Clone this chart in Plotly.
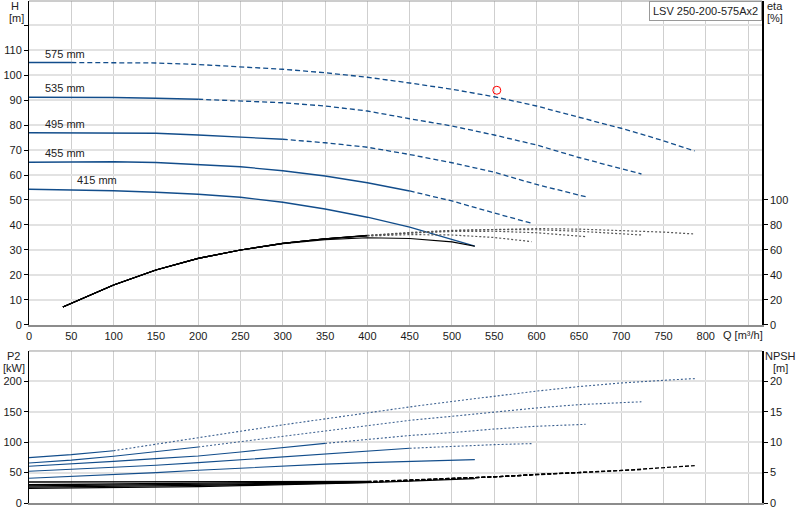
import plotly.graph_objects as go

# impeller diameters, mm
diameters = [415, 455, 495, 535, 575]

# flow points of each curve, m3/h
q_415 = [0, 50, 100, 150, 200, 250, 300, 350, 400, 450, 500, 527]
q_455 = [0, 50, 100, 150, 200, 250, 300, 350, 400, 450, 500, 550, 594]
q_495 = [0, 50, 100, 150, 200, 250, 300, 350, 400, 450, 500, 550, 600, 650, 658]
q_535 = [0, 50, 100, 150, 200, 250, 300, 350, 400, 450, 500, 550, 600, 650, 700, 724]
q_575 = [0, 50, 100, 150, 200, 250, 300, 350, 400, 450, 500, 550, 600, 650, 700, 750, 787]
q_all = [q_415, q_455, q_495, q_535, q_575]

# head H [m]
h_415 = [54.3, 54.1, 53.7, 53.1, 52.3, 51.1, 49.1, 46.4, 43.1, 39.1, 34.2, 31.5]
h_455 = [65.1, 65.2, 65.3, 65.0, 64.3, 63.3, 61.7, 59.6, 56.9, 53.6, 49.6, 44.8, 40.7]
h_495 = [76.9, 76.9, 76.9, 76.7, 76.0, 75.3, 74.3, 72.9, 71.1, 68.2, 64.9, 61.1, 56.2, 52.0, 51.3]
h_535 = [91.1, 91.1, 91.0, 90.7, 90.3, 89.6, 88.9, 87.6, 85.6, 82.5, 79.6, 76.0, 72.0, 67.0, 62.6, 60.4]
h_575 = [105.0, 105.0, 105.0, 104.8, 104.2, 103.3, 102.3, 100.9, 99.1, 96.8, 94.3, 91.3, 87.6, 83.1, 78.7, 73.7, 69.6]
head = [h_415, h_455, h_495, h_535, h_575]

# efficiency eta [%] (curves start at 40 m3/h)
qe_415 = [40] + q_415[1:]
qe_455 = [40] + q_455[1:]
qe_495 = [40] + q_495[1:]
qe_535 = [40] + q_535[1:]
qe_575 = [40] + q_575[1:]
qe_all = [qe_415, qe_455, qe_495, qe_535, qe_575]
eta_415 = [14.4, 17.4, 32.0, 44.0, 53.3, 60.0, 65.0, 68.3, 69.8, 69.2, 66.5, 63.0]
eta_455 = [14.4, 17.4, 32.0, 44.0, 53.3, 60.0, 65.3, 69.0, 71.2, 72.3, 72.0, 70.0, 66.7]
eta_495 = [14.4, 17.4, 32.0, 44.0, 53.3, 60.0, 65.3, 69.0, 71.5, 73.5, 74.8, 75.0, 73.8, 71.2, 70.7]
eta_535 = [14.4, 17.4, 32.0, 44.0, 53.3, 60.0, 65.3, 69.0, 71.6, 73.8, 75.5, 76.3, 76.2, 75.0, 73.2, 72.0]
eta_575 = [14.4, 17.4, 32.0, 44.0, 53.3, 60.0, 65.3, 69.0, 71.7, 74.0, 75.7, 76.7, 77.1, 76.7, 75.7, 74.3, 72.8]
eta = [eta_415, eta_455, eta_495, eta_535, eta_575]

# shaft power P2 [kW]
p2_415 = [40.6, 43.5, 46.8, 50.0, 53.8, 57.5, 60.9, 64.0, 66.4, 68.8, 70.2, 71.4]
p2_455 = [52.1, 55.0, 58.5, 62.0, 66.4, 71.0, 75.7, 80.5, 85.0, 90.0, 93.3, 96.0, 97.7]
p2_495 = [60.4, 64.0, 68.5, 73.0, 77.3, 84.0, 91.0, 98.0, 104.8, 111.0, 115.8, 121.7, 126.2, 129.0, 129.4]
p2_535 = [65.8, 70.5, 77.0, 84.0, 92.0, 101.0, 110.0, 119.0, 127.8, 136.0, 142.6, 149.7, 156.3, 161.8, 165.6, 166.5]
p2_575 = [74.6, 79.5, 86.0, 97.0, 107.5, 118.0, 128.5, 138.5, 148.5, 158.0, 167.0, 176.0, 184.0, 191.5, 197.4, 201.8, 204.6]
power = [p2_415, p2_455, p2_495, p2_535, p2_575]

# NPSH [m]
npsh_415 = [2.4, 2.45, 2.5, 2.6, 2.7, 2.85, 3.0, 3.2, 3.35, 3.6, 3.9, 4.0]
npsh_455 = [2.6, 2.65, 2.7, 2.8, 2.9, 3.0, 3.15, 3.3, 3.4, 3.65, 4.0, 4.3, 4.6]
npsh_495 = [2.8, 2.85, 2.9, 3.0, 3.05, 3.15, 3.25, 3.35, 3.45, 3.7, 4.0, 4.3, 4.7, 5.0, 5.05]
npsh_535 = [3.0, 3.05, 3.1, 3.15, 3.2, 3.3, 3.35, 3.45, 3.5, 3.7, 4.05, 4.3, 4.7, 5.0, 5.35, 5.5]
npsh_575 = [3.45, 3.45, 3.45, 3.45, 3.45, 3.5, 3.5, 3.55, 3.55, 3.75, 4.05, 4.3, 4.7, 5.0, 5.35, 5.75, 6.15]
npsh = [npsh_415, npsh_455, npsh_495, npsh_535, npsh_575]

# where the solid part of each curve ends
split_head = [527, 450, 300, 200, 50]
split_p2 = [527, 450, 350, 200, 100]
split_eta = [527, 400, 400, 400, 400]
split_npsh = [527, 400, 400, 400, 400]

# duty point
duty_q = [553]
duty_h = [93.9]

q_ticks = list(range(0, 851, 50))
h_ticks = list(range(0, 121, 10))
eta_ticks = list(range(0, 101, 20))
p2_ticks = list(range(0, 201, 50))
npsh_ticks = list(range(0, 21, 5))

BLUE = '#124d8b'

fig = go.Figure()


def add_curve(q, v, split, color, dash, xaxis, yaxis, width=1.3, color2=None):
    q1 = [a for a in q if a <= split]
    q2 = [a for a in q if a >= split]
    fig.add_trace(go.Scatter(x=q1, y=v[:len(q1)], mode='lines',
                             line=dict(color=color, width=width),
                             xaxis=xaxis, yaxis=yaxis, hoverinfo='skip'))
    if len(q2) > 1:
        fig.add_trace(go.Scatter(x=q2, y=v[len(q) - len(q2):], mode='lines',
                                 line=dict(color=color2 or color, width=width, dash=dash),
                                 xaxis=xaxis, yaxis=yaxis, hoverinfo='skip'))


for i in range(len(diameters)):
    add_curve(qe_all[i], eta[i], split_eta[i], 'black', '2px,2px', 'x', 'y2', 1.2, '#555555')
for i in range(len(diameters)):
    add_curve(q_all[i], head[i], split_head[i], BLUE, '5px,3px', 'x', 'y', 1.3)
    add_curve(q_all[i], power[i], split_p2[i], BLUE, '2px,2px', 'x2', 'y3', 1.1, '#3a5f8f')
    add_curve(q_all[i], npsh[i], split_npsh[i], 'black', '4px,2px', 'x2', 'y4', 1.3)

fig.add_trace(go.Scatter(x=duty_q, y=duty_h, mode='markers', xaxis='x', yaxis='y',
                         marker=dict(symbol='circle-open', size=8, color='red', line=dict(width=1)),
                         hoverinfo='skip'))

# diameter labels above the curves
for i, d in enumerate(diameters):
    fig.add_annotation(x=80 if d == 415 else 42, y=head[i][0], xref='x', yref='y',
                       text=f'{d} mm', showarrow=False, yshift=9,
                       font=dict(size=11, color='#222'))

# pixel -> paper helpers (l=29, plot width 733, b=17, plot height 502)
def px(x):
    return (x - 29) / 733


def py(y):
    return (503 - y) / 502


labels = [
    ('H', 15, 6, 'center'), ('[m]', 16, 18, 'center'),
    ('eta', 775, 6, 'center'), ('[%]', 775, 18, 'center'),
    ('P2', 13, 356, 'center'), ('[kW]', 14, 368, 'center'),
    ('NPSH', 780, 356, 'center'), ('[m]', 780, 368, 'center'),
    ('Q [m\u00b3/h]', 721, 335, 'left'),
]
for txt, x, y, anc in labels:
    fig.add_annotation(x=px(x), y=py(y), xref='paper', yref='paper', text=txt,
                       showarrow=False, xanchor=anc, yanchor='middle',
                       font=dict(size=11, color='#222'))

fig.add_annotation(x=1, y=1, xref='paper', yref='paper', text='LSV 250-200-575Ax2',
                   showarrow=False, xanchor='right', yanchor='top',
                   bordercolor='#999', borderwidth=1, borderpad=3, bgcolor='white',
                   font=dict(size=11, color='#222'))

# top borders of both panels
for yr in ['y domain', 'y3 domain']:
    fig.add_shape(type='line', xref='x domain', yref=yr, x0=0, x1=1, y0=1, y1=1,
                  line=dict(color='#9a9a9a', width=1))

xcommon = dict(range=[0, 866.5], tickvals=q_ticks,
               ticktext=[str(v) for v in q_ticks[:-1]] + [''],
               showgrid=True, gridcolor='#cfcfcf', gridwidth=1, zeroline=False,
               showline=True, linecolor='#8c8c8c', linewidth=2, ticks='')
yleft = dict(showgrid=True, gridcolor='#e2e2e2', gridwidth=2, zeroline=False,
             showline=True, linecolor='black', linewidth=1,
             ticks='outside', ticklen=4, tickcolor='black')
yright = dict(showgrid=False, zeroline=False, side='right',
              showline=True, linecolor='black', linewidth=1.5,
              ticks='outside', ticklen=4, tickcolor='black')

fig.update_layout(
    width=800, height=520,
    margin=dict(l=29, r=38, t=1, b=17),
    plot_bgcolor='white', paper_bgcolor='white',
    showlegend=False,
    font=dict(family='Liberation Sans, Arial, sans-serif', size=11, color='#1a1a1a'),
    xaxis=dict(domain=[0, 1], anchor='y', **xcommon),
    xaxis2=dict(domain=[0, 1], anchor='y3', showticklabels=False, **xcommon),
    yaxis=dict(domain=[0.3546, 1], range=[0, 129.6], anchor='x', tickvals=h_ticks,
               ticktext=[str(v) for v in h_ticks[:-1]] + [''], **yleft),
    yaxis2=dict(overlaying='y', anchor='x', range=[0, 259.2], tickvals=eta_ticks, **yright),
    yaxis3=dict(domain=[0, 0.3028], range=[0, 250], anchor='x2', tickvals=p2_ticks, **yleft),
    yaxis4=dict(overlaying='y3', anchor='x2', range=[0, 25], tickvals=npsh_ticks, **yright),
)

# page has a default body margin; remove it so the figure fills the window
fig.write_html("out.html", config={'displayModeBar': False},
               post_script="document.body.style.margin='0';document.body.style.overflow='hidden';")
